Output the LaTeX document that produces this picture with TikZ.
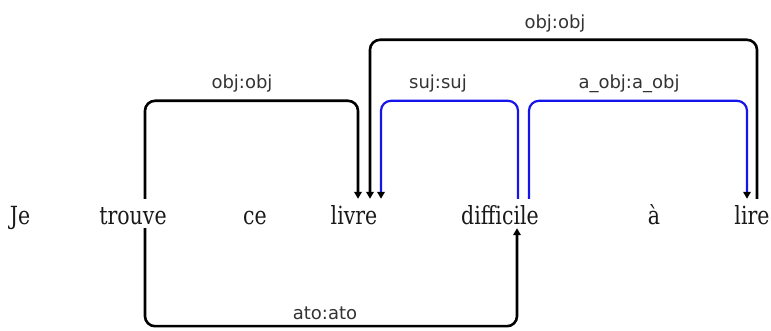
\documentclass[tikz,border=0pt]{standalone}
\usepackage{fontspec}
\setmainfont{DejaVu Serif}
\newfontfamily\lblfont{DejaVu Sans}
\usetikzlibrary{arrows.meta}
\newcommand\wsc[1]{\scalebox{0.82}[1]{#1}}
\definecolor{arcblue}{RGB}{20,20,235}
\tikzset{
  word/.style={anchor=base, inner sep=0pt, text height=26pt, text depth=3pt,
    font={\fontsize{25pt}{25pt}\selectfont}, text=black!90},
  lbl/.style={anchor=base, inner sep=0pt, font={\lblfont\fontsize{18pt}{18pt}\selectfont}, text=black!80},
  arcblack/.style={draw=black, line width=2.6pt, rounded corners=10pt, -{Triangle[width=7.5pt,length=7pt]}},
  arcblueline/.style={draw=arcblue, line width=2.2pt, rounded corners=10pt, -{Triangle[width=7.5pt,length=7pt,color=black,fill=black]}},
}
\begin{document}
\begin{tikzpicture}[x=1pt,y=1pt]
\useasboundingbox (0,0) rectangle (771,331);
% words
\node[word] (je) at (20,106) {\wsc{Je}};
\node[word] (trouve) at (133,106) {\wsc{trouve}};
\node[word] (ce) at (255,106) {\wsc{ce}};
\node[word] (livre) at (354,106) {\wsc{livre}};
\node[word] (difficile) at (500,106) {\wsc{difficile}};
\node[word] (a) at (654,106) {\wsc{à}};
\node[word] (lire) at (752,106) {\wsc{lire}};
% arcs
\draw[arcblack] ([xshift=12pt]trouve.north) -- ++(0,98) -| ([xshift=4pt]livre.north);
\draw[arcblack] ([xshift=5pt]lire.north) -- ++(0,159) -| ([xshift=16pt]livre.north);
\draw[arcblueline] ([xshift=18pt]difficile.north) -- ++(0,98) -| ([xshift=27pt]livre.north);
\draw[arcblueline] ([xshift=29pt]difficile.north) -- ++(0,98) -| ([xshift=-5pt]lire.north);
\draw[arcblack] ([xshift=12pt]trouve.south) -- ++(0,-98) -| ([xshift=17pt]difficile.south);
% labels
\node[lbl] (l1) at (242,242) {obj:obj};
\node[lbl] (l2) at (555,302) {obj:obj};
\node[lbl] (l3) at (438,242) {suj:suj};
\node[lbl] (l4) at (629,242) {a\_obj:a\_obj};
\node[lbl] (l5) at (325,11) {ato:ato};
\end{tikzpicture}
\end{document}
